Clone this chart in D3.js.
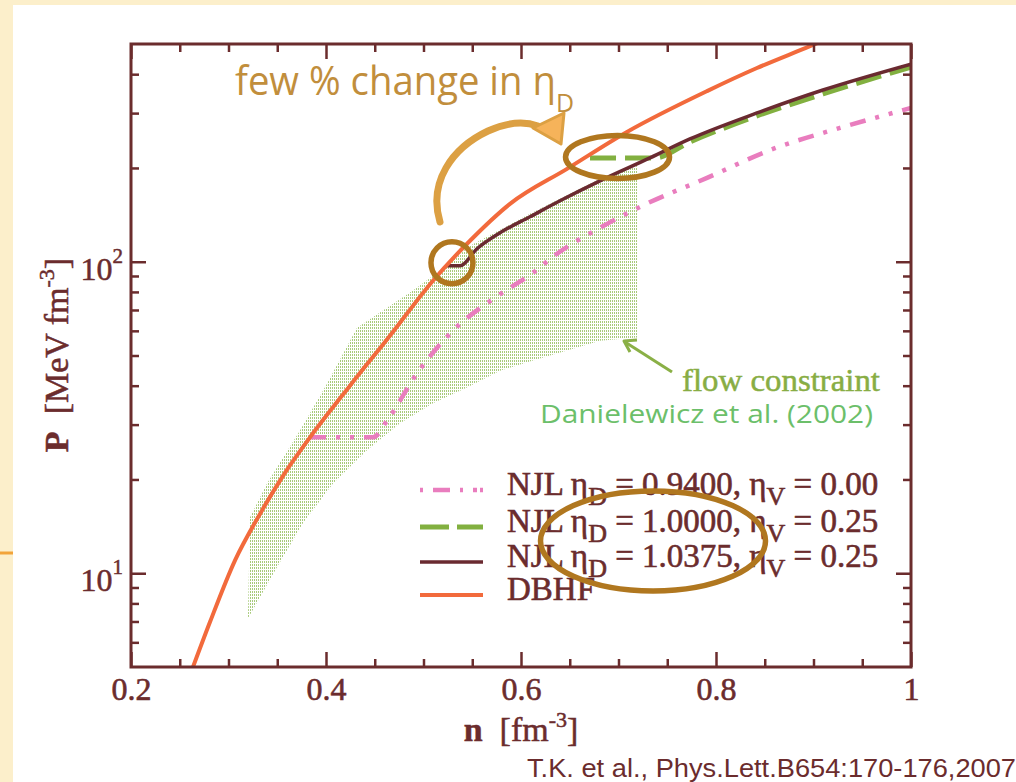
<!DOCTYPE html>
<html><head><meta charset="utf-8">
<script src="https://cdn.jsdelivr.net/npm/d3@7"></script>
<style>body{margin:0;background:#fff}svg{display:block}</style>
</head><body>
<svg id="c" width="1016" height="782"></svg>
<script>
// ---------- data ----------
const dbhfN = [0.2636,0.2810,0.3067,0.3323,0.3579,0.3836,0.4246,0.4656,0.5097,0.5477,0.5887,0.6472,0.7087,0.7908,0.8420,0.8964,0.9050];
const dbhfP = [5.0,6.97,11.0,15.5,21.0,27.3,40.0,57.9,86.9,116.8,153.4,198.7,261,353,418.6,492,505];

const njl1N = [0.5241,0.5374,0.5549,0.5785,0.6092,0.6400,0.6810,0.7323,0.7733,0.8420,0.9097,1.0];
const njl1P = [97.1,97.1,110.1,123.9,139.4,156.9,181.8,215.4,247.8,300.3,355.9,431];

const njl2N = [0.6708,0.7374,0.7733,0.8420,0.9097,1.0];
const njl2P = [215.4,215.4,242.4,293.8,345.6,421.7];

const njl3N = [0.3836,0.4482,0.4626,0.4933,0.5303,0.5733,0.6123,0.6369,0.6810,0.7220,0.7908,0.8585,0.9272,1.0];
const njl3P = [27.3,27.3,30.9,43.8,60.1,76.7,92.2,106.1,128.5,150,185.9,230.2,268.9,311.6];

const bandHiN = [0.322,0.3395,0.3733,0.401,0.4318,0.4626,0.4892,0.5169,0.5477,0.6092,0.681,0.719];
const bandHiP = [15.1,19.4,28.7,40.6,61.4,71.2,80.8,93.6,112.5,142.5,184.5,203.1];
const bandLoN = [0.320,0.3497,0.3764,0.4072,0.442,0.4759,0.5097,0.5446,0.5785,0.6123,0.6472,0.681,0.719];
const bandLoP = [7.17,10.45,14.5,19.4,24.8,30.3,35.1,39.5,44.7,48.2,51.9,55.8,57.1];

const xMajor = [0.2,0.4,0.6,0.8,1.0];
const xMinor = [0.25,0.3,0.35,0.45,0.5,0.55,0.65,0.7,0.75,0.85,0.9,0.95];
const xLabels = ["0.2","0.4","0.6","0.8","1"];
const yMajor = [10,100];
const yMinor = [6,7,8,9,20,30,40,50,60,70,80,90,200,300,400];
const yLabelExp = ["1","2"];

const legendItems = [
  {pre:"NJL η", s1:"D", mid:" = 0.9400, η", s2:"V", post:" = 0.00", key:"njl3"},
  {pre:"NJL η", s1:"D", mid:" = 1.0000, η", s2:"V", post:" = 0.25", key:"njl2"},
  {pre:"NJL η", s1:"D", mid:" = 1.0375, η", s2:"V", post:" = 0.25", key:"njl1"},
  {pre:"DBHF", key:"dbhf"}
];

// annotation marks in data coordinates
const circleAt = {n:0.5292, p:99.3};
const ellipse1At = {n:0.699, p:217};
const ellipse2At = {n:0.7354, p:12.7};

// ---------- setup ----------
const W=1016,H=782;
const X0=131,X1=911,Y0=44,Y1=667;
const x=d3.scaleLinear().domain([0.2,1]).range([X0,X1]);
const y=d3.scaleLog().domain([5,500]).range([Y1,Y0]);
const MAROON="#6B2C2D", ORANGE="#F26A3C", GREEN="#82B040", PINK="#E97DBE", LINE1="#6A2A30";
const styles = {
  dbhf:{stroke:ORANGE,w:4,dash:null},
  njl1:{stroke:LINE1,w:3.5,dash:null},
  njl2:{stroke:GREEN,w:5,dash:"26,9"},
  njl3:{stroke:PINK,w:4.5,dash:"16,10,4,10,4,10"}
};
const svg=d3.select('#c');
svg.append('rect').attr('width',W).attr('height',H).attr('fill','#FCEFCB');
svg.append('rect').attr('x',13).attr('y',5).attr('width',W-13).attr('height',H-5).attr('fill','#fff');
svg.append('line').attr('x1',0).attr('x2',13).attr('y1',553).attr('y2',553).attr('stroke','#F2A43A').attr('stroke-width',3);

const defs=svg.append('defs');
defs.append('clipPath').attr('id','clip').append('rect').attr('x',X0).attr('y',Y0).attr('width',X1-X0).attr('height',Y1-Y0);
const pat=defs.append('pattern').attr('id','hatch').attr('patternUnits','userSpaceOnUse').attr('width',2).attr('height',3);
pat.append('rect').attr('x',0).attr('y',0).attr('width',1).attr('height',2).attr('fill','#8AB84E').attr('opacity',0.75);

const plot=svg.append('g').attr('clip-path','url(#clip)');

// band
const hi = bandHiN.map((n,i)=>[x(n),y(bandHiP[i])]);
const lo = bandLoN.map((n,i)=>[x(n),y(bandLoP[i])]).reverse();
plot.append('path').attr('d',d3.line().curve(d3.curveLinearClosed)(hi.concat(lo))).attr('fill','url(#hatch)');

const lineGen=d3.line().x(d=>x(d[0])).y(d=>y(d[1])).curve(d3.curveMonotoneX);
function drawSeries(N,P,key){
  const s=styles[key];
  const p=plot.append('path').attr('d',lineGen(N.map((n,i)=>[n,P[i]])))
    .attr('fill','none').attr('stroke',s.stroke).attr('stroke-width',s.w);
  if(s.dash) p.attr('stroke-dasharray',s.dash);
}
drawSeries(njl3N,njl3P,'njl3');
drawSeries(njl2N,njl2P,'njl2');
drawSeries(njl1N,njl1P,'njl1');
drawSeries(dbhfN,dbhfP,'dbhf');

// ---------- axes ----------
function styleAxis(g){
  g.select('.domain').remove();
  g.selectAll('.tick line').attr('stroke',MAROON).attr('stroke-width',2.5);
}
const axG=svg.append('g');
axG.append('g').attr('transform',`translate(0,${Y1})`).call(d3.axisBottom(x).tickValues(xMinor).tickSize(-8).tickFormat('')).call(styleAxis);
axG.append('g').attr('transform',`translate(0,${Y0})`).call(d3.axisTop(x).tickValues(xMinor).tickSize(-8).tickFormat('')).call(styleAxis);
axG.append('g').attr('transform',`translate(0,${Y0})`).call(d3.axisTop(x).tickValues(xMajor).tickSize(-15).tickFormat('')).call(styleAxis);
const xb=axG.append('g').attr('transform',`translate(0,${Y1})`).call(d3.axisBottom(x).tickValues(xMajor).tickSize(-15).tickPadding(10).tickFormat((d,i)=>xLabels[i])).call(styleAxis);
xb.selectAll('.tick text').attr('fill',MAROON).attr('font-family','Liberation Serif').attr('font-size',32).attr('dy','0.71em')
  .attr('stroke',MAROON).attr('stroke-width',0.6);

axG.append('g').attr('transform',`translate(${X0},0)`).call(d3.axisLeft(y).tickValues(yMinor).tickSize(-8).tickFormat('')).call(styleAxis);
axG.append('g').attr('transform',`translate(${X0},0)`).call(d3.axisLeft(y).tickValues(yMajor).tickSize(-15).tickFormat('')).call(styleAxis);
axG.append('g').attr('transform',`translate(${X1},0)`).call(d3.axisRight(y).tickValues(yMinor).tickSize(-8).tickFormat('')).call(styleAxis);
axG.append('g').attr('transform',`translate(${X1},0)`).call(d3.axisRight(y).tickValues(yMajor).tickSize(-15).tickFormat('')).call(styleAxis);

// y tick labels 10^n
yMajor.forEach((v,i)=>{
  const t=svg.append('text').attr('x',X0-8).attr('y',y(v)+18).attr('text-anchor','end')
    .attr('font-family','Liberation Serif').attr('font-size',32).attr('fill',MAROON)
    .attr('stroke',MAROON).attr('stroke-width',0.5);
  t.append('tspan').text('10');
  t.append('tspan').attr('font-size',21).attr('dy',-17).text(yLabelExp[i]);
});

// frame
svg.append('rect').attr('x',X0).attr('y',Y0).attr('width',X1-X0).attr('height',Y1-Y0)
  .attr('fill','none').attr('stroke',MAROON).attr('stroke-width',3);

// axis titles
const xt=svg.append('text').attr('x',521).attr('y',741).attr('text-anchor','middle')
  .attr('font-family','Liberation Serif').attr('font-size',34).attr('fill',MAROON)
  .attr('stroke',MAROON).attr('stroke-width',0.5);
xt.append('tspan').attr('font-weight','bold').text('n');
xt.append('tspan').text('\u00a0\u00a0[fm');
xt.append('tspan').attr('font-size',22).attr('dy',-14).text('-3');
xt.append('tspan').attr('dy',14).text(']');

const yt=svg.append('text').attr('transform','translate(68,355) rotate(-90)').attr('text-anchor','middle')
  .attr('font-family','Liberation Serif').attr('font-size',34).attr('fill',MAROON)
  .attr('stroke',MAROON).attr('stroke-width',0.5);
yt.append('tspan').attr('font-weight','bold').text('P');
yt.append('tspan').text('\u00a0\u00a0[MeV fm');
yt.append('tspan').attr('font-size',22).attr('dy',-14).text('-3');
yt.append('tspan').attr('dy',14).text(']');

// ---------- legend ----------
const legY=[495,532,567,600];
legendItems.forEach((it,i)=>{
  const s=styles[it.key];
  const ly=legY[i]-5;
  const ln=svg.append('line').attr('x1',420).attr('x2',483).attr('y1',ly).attr('y2',ly)
    .attr('stroke',s.stroke).attr('stroke-width',s.w);
  if(it.key==='njl3') ln.attr('stroke-dasharray','3,10,17,10,3,10,4');
  else if(s.dash) ln.attr('stroke-dasharray','29,8');
  const t=svg.append('text').attr('x',507).attr('y',legY[i]).attr('font-family','Liberation Serif')
    .attr('font-size',33).attr('fill',MAROON).attr('stroke',MAROON).attr('stroke-width',0.6);
  t.append('tspan').text(it.pre);
  if(it.s1){
    t.append('tspan').attr('font-size',26).attr('dy',10).text(it.s1);
    t.append('tspan').attr('dy',-10).text(it.mid);
    t.append('tspan').attr('font-size',26).attr('dy',10).text(it.s2);
    t.append('tspan').attr('dy',-10).text(it.post);
  }
});

// ---------- annotations ----------
const GOLD="#B0771F";
function fit(t,w){t.attr('textLength',w).attr('lengthAdjust','spacingAndGlyphs');}

// flow band label
svg.append('line').attr('x1',672).attr('y1',372).attr('x2',625).attr('y2',342)
  .attr('stroke','#8AB046').attr('stroke-width',3);
svg.append('path').attr('d','M637,340 L624,341 L630,352').attr('fill','none')
  .attr('stroke','#8AB046').attr('stroke-width',3).attr('stroke-linejoin','round');
const fc=svg.append('text').attr('x',682).attr('y',391).attr('font-family','Liberation Serif')
  .attr('font-size',32).attr('fill','#88AD44').attr('stroke','#88AD44').attr('stroke-width',0.5).text('flow constraint');
fit(fc,198);
const dn=svg.append('text').attr('x',540).attr('y',423).attr('font-family','Open Sans')
  .attr('font-size',26).attr('fill','#6CBF6A').text('Danielewicz et al. (2002)');
fit(dn,333);

// headline
const hl=svg.append('text').attr('x',235).attr('y',95).attr('font-family','Open Sans')
  .attr('font-size',40).attr('fill','#C18E3C');
hl.append('tspan').text('few % change in η');
hl.append('tspan').attr('font-size',26).attr('dy',17).text('D');
fit(hl,339);

// curved arrow
svg.append('path').attr('d','M440,222 C428,182 452,148 488,131 C508,122 524,121 538,126')
  .attr('fill','none').attr('stroke','#DCA043').attr('stroke-width',7).attr('stroke-linecap','round');
svg.append('path').attr('d','M533,128 L564,113 L561,144 Z').attr('fill','#F6B35A')
  .attr('stroke','#DCA043').attr('stroke-width',3).attr('stroke-linejoin','round');

// circles / ellipses
svg.append('circle').attr('cx',x(circleAt.n)).attr('cy',y(circleAt.p)).attr('r',21)
  .attr('fill','none').attr('stroke',GOLD).attr('stroke-width',5.5);
svg.append('ellipse').attr('cx',x(ellipse1At.n)).attr('cy',y(ellipse1At.p)).attr('rx',52).attr('ry',21.5)
  .attr('fill','none').attr('stroke',GOLD).attr('stroke-width',5.5);
svg.append('ellipse').attr('cx',x(ellipse2At.n)).attr('cy',y(ellipse2At.p)).attr('rx',112.5).attr('ry',50)
  .attr('fill','none').attr('stroke',GOLD).attr('stroke-width',5.5);

// citation
const ct=svg.append('text').attr('x',527).attr('y',777).attr('font-family','Liberation Sans Narrow, Liberation Sans')
  .attr('font-size',25).attr('fill',MAROON).text('T.K. et al., Phys.Lett.B654:170-176,2007');
fit(ct,489);
</script>
</body></html>
